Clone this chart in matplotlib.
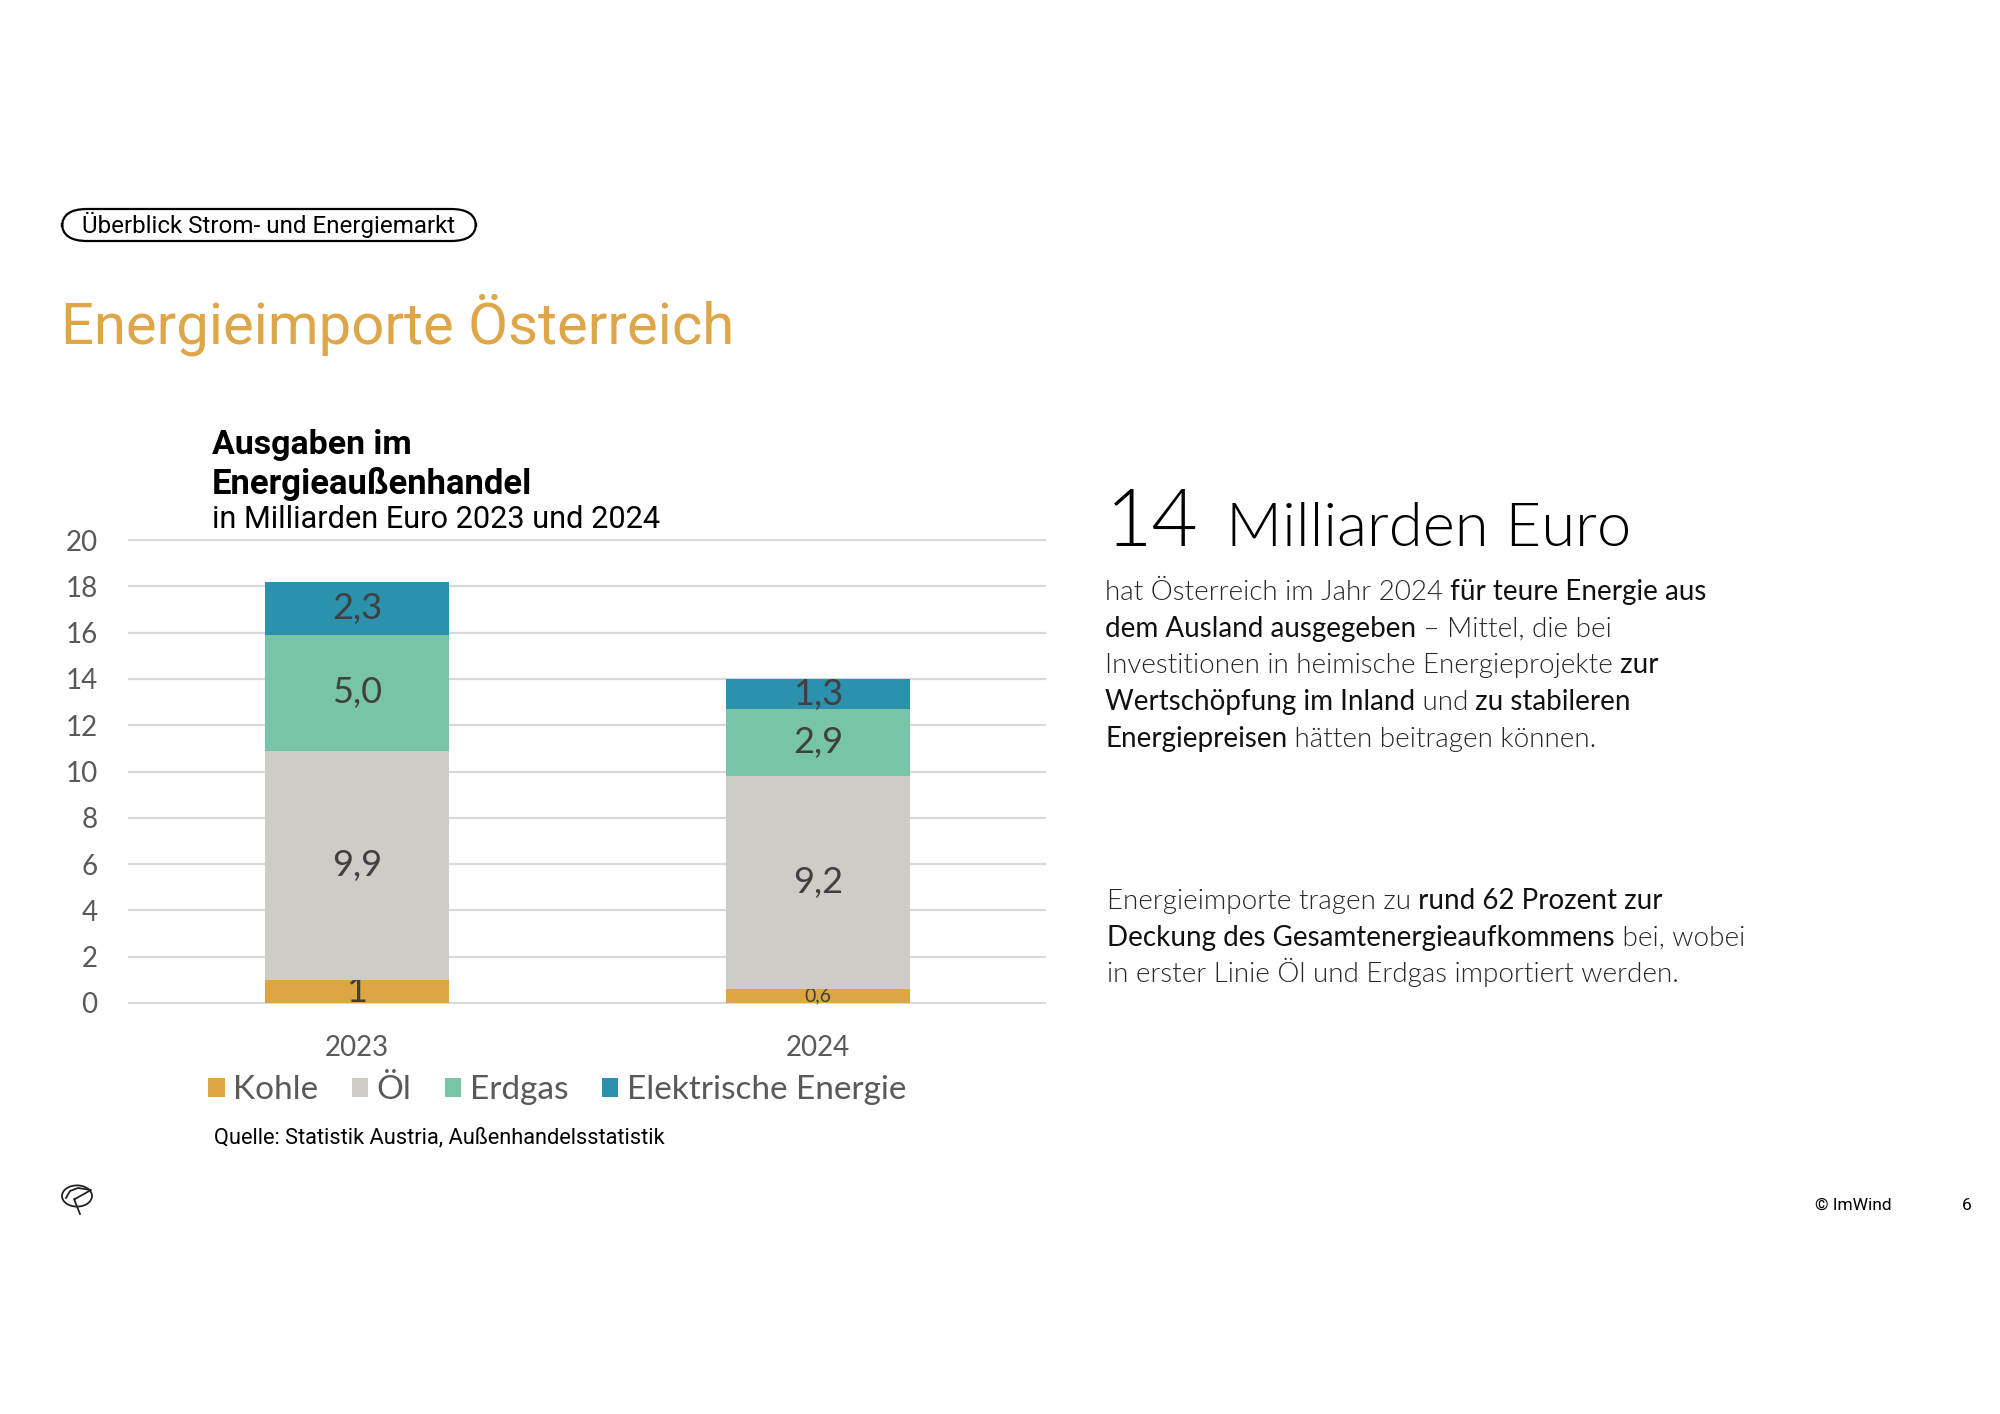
import matplotlib
matplotlib.use("Agg")
import matplotlib.pyplot as plt
from matplotlib.patches import FancyBboxPatch, Circle
from matplotlib.lines import Line2D
import numpy as np

# --- data -------------------------------------------------------------
years = ["2023", "2024"]
categories = ["Kohle", "Öl", "Erdgas", "Elektrische Energie"]
kohle = [1.0, 0.6]
oel = [9.9, 9.2]
erdgas = [5.0, 2.9]
elektro = [2.3, 1.3]
kohle_labels = ["1", "0,6"]
oel_labels = ["9,9", "9,2"]
erdgas_labels = ["5,0", "2,9"]
elektro_labels = ["2,3", "1,3"]
y_ticks = list(range(0, 21, 2))

colors = ["#DDA544", "#CFCCC7", "#78C4A6", "#2C91AD"]
GOLD = "#DFA649"
GREY = "#595959"

HEAD = ["Roboto", "DejaVu Sans"]
BODY = ["Lato", "DejaVu Sans"]
LIGHT = 300  # Lato Light (not Hairline)

W, H = 2000, 1414
fig = plt.figure(figsize=(20, 14.14), dpi=100)
renderer = fig.canvas.get_renderer()


def fx(x):
    return x / W


def fy(y):
    return 1 - y / H


def put(x, y, s, **kw):
    kw.setdefault("va", "baseline")
    return fig.text(fx(x), fy(y), s, **kw)


def width_px(t):
    return t.get_window_extent(renderer).width


def fit(t, target):
    # scale font so the text spans the target width (pixels)
    t.set_fontsize(t.get_fontsize() * target / width_px(t))
    return t


def rich(x, y, pieces, size):
    # pieces: (text, bold) ; spaces are kept leading so they get measured
    for s, bold in pieces:
        t = put(x, y, s, fontsize=size, family=BODY,
                weight="normal" if bold else LIGHT,
                color="#111111" if bold else "#262626")
        x += width_px(t)
    return x


# --- header -----------------------------------------------------------
pill = FancyBboxPatch((fx(62), fy(241)), fx(476) - fx(62), fy(209) - fy(241),
                      boxstyle="round,pad=0,rounding_size=0.0125",
                      transform=fig.transFigure, facecolor="white",
                      edgecolor="black", lw=1.6)
fig.patches.append(pill)
fit(put(82, 233, "Überblick Strom- und Energiemarkt", fontsize=17,
        family=HEAD, color="black"), 374)

fit(put(61, 343, "Energieimporte Österreich", fontsize=40,
        family=HEAD, color=GOLD), 673)

# --- chart titles -----------------------------------------------------
fit(put(212, 454, "Ausgaben im", fontsize=24, family=HEAD,
        weight="bold", color="black"), 200)
fit(put(212, 494, "Energieaußenhandel", fontsize=24, family=HEAD,
        weight="bold", color="black"), 322)
fit(put(212, 528, "in Milliarden Euro 2023 und 2024", fontsize=20,
        family=HEAD, color="black"), 448)

# --- stacked bars -----------------------------------------------------
ax = fig.add_axes([fx(128), fy(1004), (1046 - 128) / W, (1004 - 539) / H])
x = np.arange(len(years))
series = [kohle, oel, erdgas, elektro]
series_labels = [kohle_labels, oel_labels, erdgas_labels, elektro_labels]
bottom = np.zeros(len(years))
for vals, labs, name, col in zip(series, series_labels, categories, colors):
    bars = ax.bar(x, vals, 0.40, bottom=bottom, color=col, label=name, zorder=3)
    txts = ax.bar_label(bars, labels=labs, label_type="center",
                        fontsize=26, color="#404040", family=BODY)
    for v, t in zip(vals, txts):
        if v < 0.8:
            t.set_fontsize(14)
    bottom += np.array(vals)

ax.set_xlim(-0.497, 1.495)
ax.set_ylim(-0.05, 20.05)
ax.set_yticks(y_ticks)
ax.set_xticks(x, years)
ax.yaxis.grid(True, color="#D9D9D9", lw=1.6)
ax.set_axisbelow(True)
for sp in ax.spines.values():
    sp.set_visible(False)
ax.tick_params(axis="y", length=0, pad=22, labelsize=20, labelcolor=GREY)
ax.tick_params(axis="x", length=0, pad=22, labelsize=20, labelcolor=GREY)
for lab in ax.get_xticklabels() + ax.get_yticklabels():
    lab.set_family(BODY)

fig.legend(loc="center", bbox_to_anchor=(fx(557), fy(1090)), ncol=4,
           frameon=False, prop={"family": BODY, "size": 24},
           handlelength=0.5, handleheight=0.5, handletextpad=0.25,
           columnspacing=1.0, labelcolor=GREY)

fit(put(214, 1143, "Quelle: Statistik Austria, Außenhandelsstatistik",
        fontsize=14, family=HEAD, color="black"), 452)

# --- right-hand text --------------------------------------------------
fit(put(1106, 546, "14", fontsize=64, family=BODY, weight=LIGHT,
        color="black"), 93)
fit(put(1226, 546, "Milliarden Euro", fontsize=45, family=BODY,
        weight=LIGHT, color="black"), 405)

para1 = [
    [("hat Österreich im Jahr 2024", False), (" für teure Energie aus", True)],
    [("dem Ausland ausgegeben", True), (" – Mittel, die bei", False)],
    [("Investitionen in heimische Energieprojekte", False), (" zur", True)],
    [("Wertschöpfung im Inland", True), (" und", False), (" zu stabileren", True)],
    [("Energiepreisen", True), (" hätten beitragen können.", False)],
]
para2 = [
    [("Energieimporte tragen zu", False), (" rund 62 Prozent zur", True)],
    [("Deckung des Gesamtenergieaufkommens", True), (" bei, wobei", False)],
    [("in erster Linie Öl und Erdgas importiert werden.", False)],
]
for i, line in enumerate(para1):
    rich(1105, 600 + i * 36.7, line, 20)
for i, line in enumerate(para2):
    rich(1107, 909 + i * 36.7, line, 20)

# --- footer -----------------------------------------------------------
fig.patches.append(Circle((fx(77), fy(1196)), 15 / W, transform=fig.transFigure,
                          fill=False, edgecolor="#222222", lw=1.3))
logo = Line2D([fx(66), fx(70), fx(78), fx(91), fx(75), fx(74), fx(80)],
              [fy(1198), fy(1191), fy(1188), fy(1190), fy(1199), fy(1199), fy(1214)],
              transform=fig.transFigure, color="#222222", lw=1.3)
fig.lines.append(logo)
put(1815, 1210, "© ImWind", fontsize=12.5, family=HEAD, color="black")
put(1962, 1210, "6", fontsize=12.5, family=HEAD, color="black")

fig.savefig("out.png", dpi=100, facecolor="white")
